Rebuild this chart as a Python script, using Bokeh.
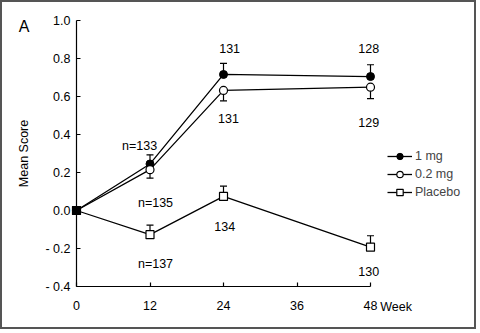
from bokeh.plotting import figure
from bokeh.models import (Range1d, Whisker, TeeHead, Legend, LegendItem,
                          ColumnDataSource, FixedTicker)
from bokeh.core.properties import value
from bokeh.embed import file_html
from bokeh.resources import INLINE

# ---------------- data ----------------
weeks = [0, 12, 24, 48]
mean_1mg = [0.0, 0.245, 0.716, 0.705]
mean_02mg = [0.0, 0.215, 0.632, 0.649]
mean_placebo = [0.0, -0.127, 0.074, -0.193]

err_weeks = [12, 24, 48]
se_1mg = [0.048, 0.058, 0.062]       # drawn upward
se_02mg = [0.045, 0.055, 0.060]      # drawn downward
se_placebo = [0.050, 0.054, 0.060]   # drawn upward

n_1mg = [133, 131, 128]
n_02mg = [135, 131, 129]
n_placebo = [137, 134, 130]

x_ticks = [0, 12, 24, 36, 48]
y_ticks = [-0.4, -0.2, 0.0, 0.2, 0.4, 0.6, 0.8, 1.0]
y_tick_labels = ["- 0.4", "- 0.2", "0.0", "0.2", "0.4", "0.6", "0.8", "1.0"]

FONT = "Liberation Sans"
FS = "12.5px"

# ---------------- figure ----------------
PXX = 6.125   # px per week
PXY = 190.0   # px per score unit
p = figure(width=476, height=329, output_backend="svg", toolbar_location=None,
           x_range=Range1d(-74 / PXX, 402 / PXX), y_range=Range1d(-121 / PXY, 208 / PXY),
           min_border=0, min_border_left=0, min_border_right=0, min_border_top=0,
           min_border_bottom=0)
p.styles = {"border": "2px solid #555"}
p.outline_line_color = None
p.grid.visible = False
p.background_fill_color = "white"
p.border_fill_color = "white"

xa = p.xaxis[0]
ya = p.yaxis[0]
xa.fixed_location = y_ticks[0]
ya.fixed_location = x_ticks[0]

for ax in (xa, ya):
    ax.axis_line_color = "black"
    ax.axis_line_width = 1.2
    ax.major_tick_line_color = "black"
    ax.major_tick_line_width = 1.2
    ax.major_tick_in = 4
    ax.major_tick_out = 0
    ax.minor_tick_line_color = None
    ax.major_label_text_font = FONT
    ax.major_label_text_font_size = FS
    ax.major_label_text_color = "black"

xa.bounds = (x_ticks[0], x_ticks[-1])
xa.ticker = FixedTicker(ticks=x_ticks)
xa.major_label_standoff = 14
xa.major_label_overrides = {t: str(t) for t in x_ticks}

ya.bounds = (y_ticks[0], y_ticks[-1])
ya.ticker = FixedTicker(ticks=y_ticks)
ya.major_label_overrides = {t: s for t, s in zip(y_ticks, y_tick_labels)}
ya.major_label_standoff = 6
ya.axis_label = "Mean Score"
ya.axis_label_text_font = FONT
ya.axis_label_text_font_style = "normal"
ya.axis_label_text_font_size = FS
ya.axis_label_text_color = "black"
ya.axis_label_standoff = 11

# ---------------- error bars ----------------
def up(m, e):
    return [mi + ei for mi, ei in zip(m, e)]

def down(m, e):
    return [mi - ei for mi, ei in zip(m, e)]

m1 = mean_1mg[1:]
m2 = mean_02mg[1:]
mp = mean_placebo[1:]

for base, lo, hi, up_head in [
    (err_weeks, m1, up(m1, se_1mg), True),
    (err_weeks, down(m2, se_02mg), m2, False),
    (err_weeks, mp, up(mp, se_placebo), True),
]:
    src = ColumnDataSource(dict(base=base, lower=lo, upper=hi))
    w = Whisker(source=src, base="base", lower="lower", upper="upper",
                line_color="black", line_width=1.2, level="underlay",
                upper_head=TeeHead(size=7, line_color="black", line_width=1.2) if up_head else None,
                lower_head=None if up_head else TeeHead(size=7, line_color="black", line_width=1.2))
    p.add_layout(w)

# ---------------- lines and markers ----------------
l1 = p.line(weeks, mean_1mg, line_color="black", line_width=1.3)
s1 = p.scatter(weeks, mean_1mg, marker="circle", size=8, fill_color="black", line_color="black")
l2 = p.line(weeks, mean_02mg, line_color="black", line_width=1.3)
s2 = p.scatter(weeks, mean_02mg, marker="circle", size=8, fill_color="white", line_color="black",
               line_width=1.2)
l3 = p.line(weeks, mean_placebo, line_color="black", line_width=1.3)
s3 = p.scatter(weeks, mean_placebo, marker="square", size=8, fill_color="white", line_color="black",
               line_width=1.2)
# common baseline point
p.scatter([weeks[0]], [mean_placebo[0]], marker="square", size=8, fill_color="black", line_color="black")

# ---------------- n labels ----------------
lab_text = ["n=%d" % n_1mg[0], str(n_1mg[1]), str(n_1mg[2]),
            "n=%d" % n_02mg[0], str(n_02mg[1]), str(n_02mg[2]),
            "n=%d" % n_placebo[0], str(n_placebo[1]), str(n_placebo[2])]
lab_x = [10.3, 25.0, 47.7, 12.9, 24.8, 47.7, 12.9, 24.2, 47.7]
lab_y = [0.337, 0.853, 0.853, 0.037, 0.484, 0.463, -0.284, -0.084, -0.321]
p.text(lab_x, lab_y, text=lab_text, text_font=value(FONT), text_font_size=FS,
       text_align="center", text_baseline="middle", text_color="black")

# ---------------- extra texts ----------------
p.text([49.6], [-0.51], text=["Week"], text_font=value(FONT), text_font_size=FS,
       text_align="left", text_baseline="middle", text_color="black")
p.text([-8.57], [0.968], text=["A"], text_font=value(FONT), text_font_size="16px",
       text_align="center", text_baseline="middle", text_color="black")

# ---------------- legend ----------------
legend = Legend(items=[LegendItem(label="1 mg", renderers=[l1, s1]),
                       LegendItem(label="0.2 mg", renderers=[l2, s2]),
                       LegendItem(label="Placebo", renderers=[l3, s3])],
                location=(385, 131), padding=0, margin=0, spacing=2,
                glyph_width=25, glyph_height=16, label_height=16, label_standoff=3,
                border_line_color=None, background_fill_alpha=0,
                label_text_font=FONT, label_text_font_size=FS)
p.add_layout(legend)

open("out.html", "w").write(file_html(p, INLINE))
